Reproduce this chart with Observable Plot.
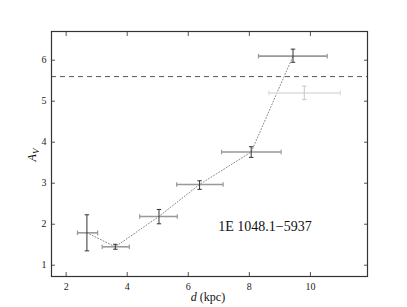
<!DOCTYPE html>
<html>
<head>
<meta charset="utf-8">
<script src="https://cdn.jsdelivr.net/npm/d3@7"></script>
<script src="https://cdn.jsdelivr.net/npm/@observablehq/plot@0.6"></script>
<style>
  html, body { margin: 0; padding: 0; background: #fff; }
  #chart svg { display: block; }
  #chart svg, #chart svg text { font-family: 'Liberation Serif', 'Times New Roman', serif !important; }
</style>
</head>
<body>
<div id="chart"></div>
<script>
// Data
const dist    = [2.68, 3.61, 5.04, 6.37, 8.06, 9.43];
const distLo  = [2.37, 3.18, 4.41, 5.62, 7.09, 8.30];
const distHi  = [3.03, 4.07, 5.64, 7.14, 9.04, 10.55];
const av      = [1.79, 1.45, 2.19, 2.97, 3.76, 6.10];
const avLo    = [1.35, 1.39, 2.01, 2.85, 3.63, 5.95];
const avHi    = [2.23, 1.51, 2.36, 3.06, 3.89, 6.27];

const grayDist = [9.80];
const grayDistLo = [8.64];
const grayDistHi = [10.98];
const grayAv = [5.20];
const grayAvLo = [5.04];
const grayAvHi = [5.37];

const threshold = [5.6];
const xTicks = [2, 4, 6, 8, 10];
const yTicks = [1, 2, 3, 4, 5, 6];
const sourceLabel = "1E 1048.1\u22125937";
const labelPos = {x: 8.51, y: 1.94};

const pts = dist.map((d, i) => ({d, lo: distLo[i], hi: distHi[i], a: av[i], alo: avLo[i], ahi: avHi[i]}));
const gpts = grayDist.map((d, i) => ({d, lo: grayDistLo[i], hi: grayDistHi[i], a: grayAv[i], alo: grayAvLo[i], ahi: grayAvHi[i]}));

const vCap = {draw(ctx, size) { const r = Math.sqrt(size / Math.PI); ctx.moveTo(0, -r); ctx.lineTo(0, r); }};
const hCap = {draw(ctx, size) { const r = Math.sqrt(size / Math.PI); ctx.moveTo(-r, 0); ctx.lineTo(r, 0); }};

function errorMarks(data, hColor, vColor) {
  return [
    Plot.link(data, {x1: "lo", x2: "hi", y1: "a", y2: "a", stroke: hColor, strokeWidth: 1.6}),
    Plot.dot(data, {x: "lo", y: "a", symbol: vCap, r: 2.3, stroke: hColor, fill: "none", strokeWidth: 1.2}),
    Plot.dot(data, {x: "hi", y: "a", symbol: vCap, r: 2.3, stroke: hColor, fill: "none", strokeWidth: 1.2}),
    Plot.link(data, {x1: "d", x2: "d", y1: "alo", y2: "ahi", stroke: vColor, strokeWidth: 1}),
    Plot.dot(data, {x: "d", y: "alo", symbol: hCap, r: 2.2, stroke: vColor, fill: "none", strokeWidth: 1}),
    Plot.dot(data, {x: "d", y: "ahi", symbol: hCap, r: 2.2, stroke: vColor, fill: "none", strokeWidth: 1})
  ];
}

const serif = "'Liberation Serif', 'Times New Roman', serif";

const chart = Plot.plot({
  width: 407,
  height: 307,
  marginLeft: 51,
  marginRight: 40,
  marginTop: 31,
  marginBottom: 31,
  style: {fontFamily: serif, fontSize: "10px", color: "#222", background: "#fff"},
  x: {domain: [1.52, 11.87], ticks: xTicks, label: null},
  y: {domain: [0.725, 6.70], ticks: yTicks, label: null},
  marks: [
    Plot.ruleY(threshold, {stroke: "#555", strokeDasharray: "5,4", strokeWidth: 1}),
    Plot.line(pts, {x: "d", y: "a", stroke: "#888", strokeDasharray: "1,2", strokeWidth: 1}),
    ...errorMarks(gpts, "#ddd", "#c8c8c8"),
    ...errorMarks(pts, "#999", "#333"),
    Plot.text([labelPos], {x: "x", y: "y", text: () => sourceLabel, fontSize: 14, fill: "#111", textAnchor: "middle"}),
    Plot.axisX(xTicks, {anchor: "bottom", tickSize: -4, tickPadding: 10, stroke: "#555"}),
    Plot.axisX(xTicks, {anchor: "top", tickSize: -4, tickFormat: () => "", stroke: "#555", label: null}),
    Plot.axisY(yTicks, {anchor: "left", tickSize: -4, tickPadding: 9, stroke: "#555"}),
    Plot.axisY(yTicks, {anchor: "right", tickSize: -4, tickFormat: () => "", stroke: "#555", label: null}),
    Plot.frame({stroke: "#333", strokeWidth: 1.2})
  ]
});

const svg = d3.select(chart);
svg.attr("font-family", serif);
// y-axis label A_V
const yl = svg.append("text")
  .attr("transform", "translate(36,155) rotate(-90)")
  .attr("text-anchor", "middle")
  .attr("font-family", serif)
  .attr("font-size", 12)
  .attr("fill", "#111");
yl.append("tspan").attr("font-style", "italic").text("A");
yl.append("tspan").attr("font-style", "italic").attr("font-size", 9).attr("dy", 3).text("V");
// x-axis label d (kpc)
const xl = svg.append("text")
  .attr("x", 208)
  .attr("y", 301)
  .attr("text-anchor", "middle")
  .attr("font-family", serif)
  .attr("font-size", 12)
  .attr("fill", "#111");
xl.append("tspan").attr("font-style", "italic").text("d");
xl.append("tspan").text(" (kpc)");

document.getElementById("chart").appendChild(chart);
</script>
</body>
</html>
